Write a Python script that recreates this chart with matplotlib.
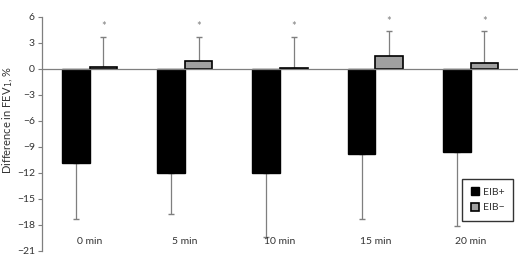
import numpy as np
import matplotlib
matplotlib.use("Agg")
import matplotlib.pyplot as plt
from matplotlib.transforms import blended_transform_factory

plt.rcParams['font.family'] = ['Lato', 'DejaVu Sans']

categories = ['0 min', '5 min', '10 min', '15 min', '20 min']
eib_pos = [-10.9, -12.0, -12.0, -9.8, -9.6]
eib_pos_sd = [6.4, 4.8, 7.4, 7.5, 8.6]
eib_neg = [0.2, 0.9, 0.1, 1.5, 0.6]
eib_neg_sd = [3.5, 2.8, 3.6, 2.8, 3.7]
yticks = np.arange(-21, 7, 3)

grey = '#7f7f7f'
x = np.arange(len(categories))
w = 0.29

fig = plt.figure(figsize=(5.24, 2.57), dpi=100)
ax = fig.add_axes([0.080, 0.025, 0.909, 0.91])

ax.bar(x - w / 2, eib_pos, w, color='black', edgecolor='black', linewidth=1.0,
       label='EIB+', zorder=2)
ax.bar(x + w / 2, eib_neg, w, color='#a0a0a0', edgecolor='black', linewidth=1.2,
       label='EIB\u2212', zorder=2)

# one-sided error bars
ax.errorbar(x - w / 2, eib_pos, yerr=[eib_pos_sd, [0] * len(x)], fmt='none',
            ecolor=grey, elinewidth=0.9, capsize=2, capthick=1.0, zorder=1)
ax.errorbar(x + w / 2, eib_neg, yerr=[[0] * len(x), eib_neg_sd], fmt='none',
            ecolor=grey, elinewidth=0.9, capsize=2, capthick=1.0, zorder=1)

# asterisks above the EIB- bars
for xi, v, sd in zip(x, eib_neg, eib_neg_sd):
    ax.text(xi + w / 2, v + sd + 0.5, '*', ha='center', va='bottom',
            fontsize=8, color=grey)

ax.axhline(0, color=grey, linewidth=0.9, zorder=3)

ax.set_xlim(-0.5, len(categories) - 0.5)
ax.set_ylim(-21, 6)
ax.set_yticks(yticks)
ax.set_yticklabels([str(t).replace('-', '\u2212') for t in yticks])
ax.tick_params(axis='y', direction='out', length=3, width=0.8, color=grey,
               labelsize=7.5, labelcolor='#333333', pad=2)
ax.set_xticks([])

# category labels sit near the bottom inside the axes
trans = blended_transform_factory(ax.transData, ax.transAxes)
for xi, lab in zip(x, categories):
    ax.text(xi, 0.02, lab, transform=trans, ha='center', va='bottom',
            fontsize=7.5, color='#333333')

for s in ['top', 'right', 'bottom']:
    ax.spines[s].set_visible(False)
ax.spines['left'].set_color(grey)
ax.spines['left'].set_linewidth(0.9)

ax.set_ylabel('Difference in FEV$_1$, %', fontsize=8, color='#333333')
ax.yaxis.set_label_coords(-0.057, 0.56)

leg = ax.legend(loc='lower right', bbox_to_anchor=(1.0, 0.105), fontsize=7.5,
                frameon=True, fancybox=False, edgecolor='black',
                handlelength=0.8, handleheight=0.8, handletextpad=0.4,
                borderpad=0.8, labelspacing=0.6)
leg.get_frame().set_linewidth(1.0)
for t in leg.get_texts():
    t.set_color('#333333')

fig.savefig('out.png', dpi=100)
